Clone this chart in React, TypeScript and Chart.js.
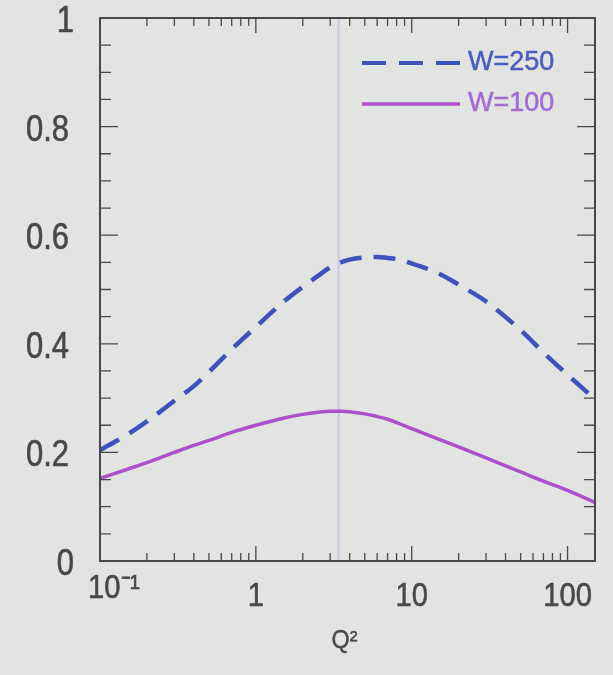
import React, { useEffect, useRef } from "react";
import { Chart, registerables } from "chart.js";

Chart.register(...registerables);

// ---- data ----
const Q2 = [0.1, 0.15, 0.2, 0.3, 0.4, 0.5, 0.7, 1, 1.5, 2, 2.5, 3, 3.5, 4, 5, 6, 7, 8, 10, 15, 20, 30, 50, 70, 100, 150];
const W250 = [0.204, 0.233, 0.257, 0.295, 0.322, 0.348, 0.39, 0.431, 0.477, 0.505, 0.525, 0.541, 0.55, 0.555, 0.559, 0.56, 0.558, 0.556, 0.548, 0.529, 0.509, 0.478, 0.425, 0.384, 0.343, 0.298];
const W100 = [0.152, 0.169, 0.181, 0.2, 0.213, 0.222, 0.237, 0.25, 0.263, 0.27, 0.274, 0.276, 0.276, 0.275, 0.271, 0.266, 0.261, 0.255, 0.244, 0.224, 0.21, 0.19, 0.164, 0.147, 0.13, 0.108];

const seriesNames = ["W=250", "W=100"];
const xTickValues = [0.1, 1, 10, 100];
const xTickLabels = ["10⁻¹", "1", "10", "100"];
const yTickValues = [0, 0.2, 0.4, 0.6, 0.8, 1];
const yTickLabels = ["0", "0.2", "0.4", "0.6", "0.8", "1"];
const xTitle = "Q²";
const X_MIN = 0.1;
const X_MAX = 150;
const FOLD_Q2 = 3.4;

const BLUE = "rgb(62,82,190)";
const PURPLE = "rgb(172,80,204)";
const BG = "rgb(226,228,225)";
const INK = "rgb(72,72,72)";
const FONT = "'Liberation Sans', Arial, sans-serif";

function drawText(ctx: CanvasRenderingContext2D, text: string, x: number, y: number, size: number, sx: number, align: CanvasTextAlign, color: string, stroke = 0.6) {
  ctx.save();
  ctx.translate(x, y);
  ctx.scale(sx, 1);
  ctx.font = `${size}px ${FONT}`;
  ctx.textAlign = align;
  ctx.textBaseline = "middle";
  ctx.fillStyle = color;
  ctx.fillText(text, 0, 0);
  if (stroke > 0) {
    ctx.strokeStyle = color;
    ctx.lineWidth = stroke;
    ctx.strokeText(text, 0, 0);
  }
  ctx.restore();
}

const framePlugin = {
  id: "framePlugin",
  beforeDatasetsDraw(chart: any) {
    const { ctx, chartArea: a, scales } = chart;
    const fx = scales.x.getPixelForValue(FOLD_Q2);
    ctx.save();
    ctx.strokeStyle = "rgba(188,188,228,0.7)";
    ctx.lineWidth = 2;
    ctx.beginPath();
    ctx.moveTo(fx, a.top);
    ctx.lineTo(fx, a.bottom);
    ctx.stroke();
    ctx.restore();
  },
  afterDraw(chart: any) {
    const { ctx, chartArea: a, scales } = chart;
    const xs = scales.x;
    const ys = scales.y;
    ctx.save();
    ctx.strokeStyle = INK;
    ctx.lineWidth = 1.3;
    for (let d = 0.1; d <= 100.0001; d *= 10) {
      for (let m = 1; m <= 9; m++) {
        const v = m * d;
        if (v < X_MIN * 0.999 || v > X_MAX) continue;
        const px = xs.getPixelForValue(v);
        const len = m === 1 ? 15 : 8;
        ctx.beginPath();
        ctx.moveTo(px, a.bottom);
        ctx.lineTo(px, a.bottom - len);
        ctx.moveTo(px, a.top);
        ctx.lineTo(px, a.top + len);
        ctx.stroke();
      }
    }
    for (let i = 0; i <= 20; i++) {
      const v = i * 0.05;
      const py = ys.getPixelForValue(v);
      const len = i % 4 === 0 ? 18 : 11;
      ctx.beginPath();
      ctx.moveTo(a.left, py);
      ctx.lineTo(a.left + len, py);
      ctx.moveTo(a.right, py);
      ctx.lineTo(a.right - len, py);
      ctx.stroke();
    }
    ctx.lineWidth = 2;
    ctx.strokeRect(a.left, a.top, a.right - a.left, a.bottom - a.top);
    ctx.restore();

    yTickValues.forEach((v, i) => {
      const py = ys.getPixelForValue(v);
      const shift = yTickLabels[i].length === 1 ? 5 : 0;
      drawText(ctx, yTickLabels[i], a.left - 31 + shift, py + 4, 36, 0.86, "right", INK);
    });
    xTickValues.forEach((v, i) => {
      const px = xs.getPixelForValue(v);
      if (i === 0) drawText(ctx, xTickLabels[i], px - 12, a.bottom + 28, 34, 0.86, "left", INK);
      else drawText(ctx, xTickLabels[i], px, a.bottom + 36, 34, 0.86, "center", INK);
    });
    drawText(ctx, xTitle, (a.left + a.right) / 2 - 3, a.bottom + 80, 26, 0.9, "center", INK, 0.4);

    const lx0 = a.right - 233;
    const lx1 = a.right - 135;
    const ly = [a.top + 45, a.top + 86];
    ctx.save();
    ctx.lineWidth = 4;
    ctx.strokeStyle = BLUE;
    ctx.setLineDash([24, 13]);
    ctx.beginPath();
    ctx.moveTo(lx0, ly[0]);
    ctx.lineTo(lx1, ly[0]);
    ctx.stroke();
    ctx.setLineDash([]);
    ctx.lineWidth = 3.5;
    ctx.strokeStyle = PURPLE;
    ctx.beginPath();
    ctx.moveTo(lx0, ly[1]);
    ctx.lineTo(lx1, ly[1]);
    ctx.stroke();
    ctx.restore();
    drawText(ctx, seriesNames[0], lx1 + 8, ly[0], 27, 1.0, "left", "rgb(74,94,190)", 0.5);
    drawText(ctx, seriesNames[1], lx1 + 8, ly[1], 27, 1.0, "left", "rgb(160,108,212)", 0.5);
  },
};

export default function App() {
  const ref = useRef<HTMLCanvasElement | null>(null);
  useEffect(() => {
    if (!ref.current) return;
    const chart = new Chart(ref.current, {
      type: "line",
      data: {
        datasets: [
          {
            label: seriesNames[0],
            data: Q2.map((q, i) => ({ x: q, y: W250[i] })),
            borderColor: BLUE,
            borderWidth: 4.5,
            borderDash: [22, 12],
            pointRadius: 0,
            cubicInterpolationMode: "monotone",
            fill: false,
          },
          {
            label: seriesNames[1],
            data: Q2.map((q, i) => ({ x: q, y: W100[i] })),
            borderColor: PURPLE,
            borderWidth: 3.5,
            pointRadius: 0,
            cubicInterpolationMode: "monotone",
            fill: false,
          },
        ],
      },
      options: {
        responsive: false,
        animation: false,
        layout: { padding: { left: 100, top: 18, right: 18, bottom: 114 } },
        plugins: { legend: { display: false }, tooltip: { enabled: false }, title: { display: false } },
        scales: {
          x: { type: "logarithmic", min: X_MIN, max: X_MAX, display: false },
          y: { type: "linear", min: 0, max: 1, display: false },
        },
      },
      plugins: [framePlugin],
    });
    return () => chart.destroy();
  }, []);
  return (
    <div style={{ position: "fixed", left: 0, top: 0, width: 613, height: 675, background: BG }}>
      <canvas ref={ref} width={613} height={675} style={{ display: "block", width: 613, height: 675 }} />
    </div>
  );
}
